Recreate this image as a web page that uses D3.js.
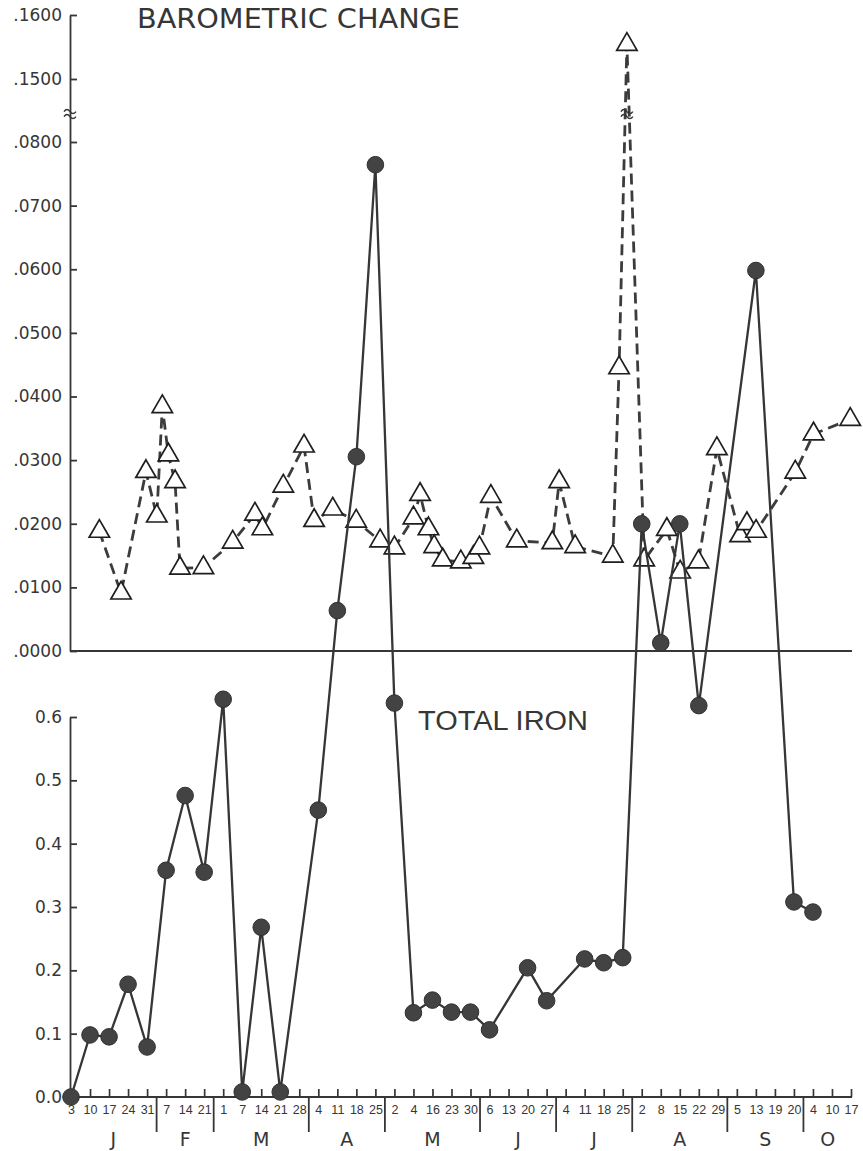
<!DOCTYPE html>
<html>
<head>
<meta charset="utf-8">
<script src="https://cdn.jsdelivr.net/npm/d3@7"></script>
<style>
  body { margin: 0; background: #fff; }
  svg { display: block; }
</style>
</head>
<body>
<svg id="chart" width="863" height="1151"></svg>
<script>
// one tick per sampling date along the bottom
const dayLabels = ['3', '10', '17', '24', '31', '7', '14', '21', '1', '7', '14', '21', '28', '4', '11', '18', '25',
  '2', '4', '16', '23', '30', '6', '13', '20', '27', '4', '11', '18', '25', '2', '8', '15', '22', '29',
  '5', '13', '19', '20', '4', '10', '17']
const monthLabels = ['J', 'F', 'M', 'A', 'M', 'J', 'J', 'A', 'S', 'O']
const monthStarts = [0, 5, 8, 13, 17, 22, 26, 30, 35, 39] // first tick of each month

// total iron (tick index -> value)
const ironWeek = [0, 1, 2, 3, 4, 5, 6, 7, 8, 9, 10, 11, 13, 14, 15, 16, 17, 18, 19, 20, 21, 22, 24, 25,
  27, 28, 29, 30, 31, 32, 33, 36, 38, 39]
const ironValue = [0, 0.098, 0.095, 0.178, 0.079, 0.358, 0.476, 0.355, 0.628, 0.008, 0.268, 0.008,
  0.453, 0.768, 1.011, 1.472, 0.622, 0.133, 0.153, 0.134, 0.134, 0.106, 0.204, 0.152,
  0.218, 0.212, 0.220, 0.905, 0.717, 0.905, 0.618, 1.305, 0.308, 0.292]

// barometric change (position on the tick axis -> value)
const baroWeek = [1.49, 2.63, 3.94, 4.51, 4.80, 5.12, 5.47, 5.73, 6.96, 8.50, 9.67, 10.06, 11.16, 12.25,
  12.78, 13.76, 14.99, 16.25, 17.00, 18.00, 18.35, 18.79, 19.09, 19.54, 20.49, 21.15, 21.47, 22.07,
  23.43, 25.30, 25.66, 26.50, 28.48, 28.81, 29.22, 30.13, 31.32, 32.02, 32.98, 33.95, 35.17, 35.53,
  36.01, 38.07, 39.03, 40.96]
const baroValue = [0.0188, 0.0091, 0.0282, 0.0212, 0.0384, 0.0308, 0.0266, 0.0130, 0.0131, 0.0171,
  0.0215, 0.0192, 0.0259, 0.0322, 0.0205, 0.0223, 0.0204, 0.0173, 0.0162, 0.0209, 0.0246, 0.0192,
  0.0164, 0.0143, 0.0140, 0.0147, 0.0162, 0.0243, 0.0173, 0.0170, 0.0266, 0.0164, 0.0149, 0.0445,
  0.1554, 0.0143, 0.0191, 0.0124, 0.0140, 0.0318, 0.0181, 0.0200, 0.0188, 0.0281, 0.0341, 0.0364]

const baroTicks = [0, 0.01, 0.02, 0.03, 0.04, 0.05, 0.06, 0.07, 0.08, 0.15, 0.16]
const ironTicks = [0, 0.1, 0.2, 0.3, 0.4, 0.5, 0.6]
const axisBreak = 0.111

const ink = '#363636'
const font = "'DejaVu Sans', sans-serif"

const svg = d3.select('#chart')
const axisX = 70
const axisEnd = 852

const xScale = d3.scaleLinear().domain([0, dayLabels.length - 1]).range([71, 851])
// broken scale: 0 - .08 below the break, .15 - .16 above it
const yBaro = d3.scaleLinear().domain([0, 0.08, 0.15, 0.16]).range([651, 142, 79, 15])
const yIron = d3.scaleLinear().domain([0, 0.6]).range([1097, 717])

const baro = baroWeek.map((w, i) => ({ w, v: baroValue[i] }))
const iron = ironWeek.map((w, i) => ({ w, v: ironValue[i] }))

function customYAxis (g, axis) {
  g.call(axis)
  g.select('.domain').style('stroke', ink).style('stroke-width', 1.8)
  g.selectAll('.tick line').style('stroke', ink).style('stroke-width', 1.8)
  g.selectAll('.tick text')
    .style('font-family', font)
    .style('font-size', '17px')
    .style('fill', ink)
}

const baroAxis = d3.axisLeft(yBaro)
  .tickValues(baroTicks)
  .tickSize(-7)
  .tickSizeOuter(0)
  .tickPadding(8)
  .tickFormat(d => d3.format('.4f')(d).slice(1))

const ironAxis = d3.axisLeft(yIron)
  .tickValues(ironTicks)
  .tickSize(-7)
  .tickSizeOuter(0)
  .tickPadding(8)
  .tickFormat(d3.format('.1f'))

svg.append('g').attr('transform', `translate(${axisX},0)`).call(g => customYAxis(g, baroAxis))
svg.append('g').attr('transform', `translate(${axisX},0)`).call(g => customYAxis(g, ironAxis))

// zero line of the barometric panel
svg.append('line')
  .attr('x1', axisX).attr('x2', axisEnd)
  .attr('y1', yBaro(0)).attr('y2', yBaro(0))
  .style('stroke', ink).style('stroke-width', 1.8)

// bottom axis
const xAxis = d3.axisBottom(xScale)
  .tickValues(d3.range(dayLabels.length))
  .tickSize(-8)
  .tickSizeOuter(0)
  .tickPadding(8)
  .tickFormat(i => dayLabels[i])

const gx = svg.append('g').attr('transform', `translate(0,${yIron(0)})`).call(xAxis)
gx.select('.domain').remove()
gx.selectAll('.tick line').style('stroke', ink).style('stroke-width', 1.7)
gx.selectAll('.tick text')
  .style('font-family', "'Liberation Sans', sans-serif")
  .style('font-size', '12.5px')
  .style('fill', ink)
gx.append('line')
  .attr('x1', axisX).attr('x2', axisEnd)
  .style('stroke', ink).style('stroke-width', 1.8)

// month separators and letters
const bounds = [axisX].concat(monthStarts.slice(1).map(s => xScale(s - 0.5)), [axisEnd])
gx.selectAll('.sep')
  .data(bounds.slice(1, -1))
  .join('line')
  .attr('x1', d => d).attr('x2', d => d)
  .attr('y1', 0).attr('y2', 35)
  .style('stroke', ink).style('stroke-width', 1.8)
gx.selectAll('.month')
  .data(monthLabels)
  .join('text')
  .attr('x', (d, i) => (bounds[i] + bounds[i + 1]) / 2)
  .attr('y', 49)
  .attr('text-anchor', 'middle')
  .style('font-family', font)
  .style('font-size', '19px')
  .style('fill', ink)
  .text(d => d)

// barometric change: dashed line with open triangles
const baroLine = d3.line().x(d => xScale(d.w)).y(d => yBaro(d.v))
svg.append('path')
  .datum(baro)
  .attr('d', baroLine)
  .style('fill', 'none')
  .style('stroke', '#3c3c3c')
  .style('stroke-width', 2.8)
  .style('stroke-dasharray', '11,6')

svg.selectAll('.tri')
  .data(baro)
  .join('path')
  .attr('transform', d => `translate(${xScale(d.w)},${yBaro(d.v)})`)
  .attr('d', d3.symbol(d3.symbolTriangle, 180))
  .style('fill', '#fff')
  .style('stroke', '#1e1e1e')
  .style('stroke-width', 1.7)

// total iron: solid line with filled dots
const ironLine = d3.line().x(d => xScale(d.w)).y(d => yIron(d.v))
svg.append('path')
  .datum(iron)
  .attr('d', ironLine)
  .style('fill', 'none')
  .style('stroke', ink)
  .style('stroke-width', 2.3)

svg.selectAll('.dot')
  .data(iron)
  .join('circle')
  .attr('cx', d => xScale(d.w))
  .attr('cy', d => yIron(d.v))
  .attr('r', 8.3)
  .style('fill', '#434343')
  .style('stroke', '#303030')
  .style('stroke-width', 1)

// break marks on the axis and on the spike
const peak = baro.reduce((a, b) => (b.v > a.v ? b : a))
const breakMark = (x, y, w) => [-2.5, 2.5]
  .map(k => `M${x - w / 2},${y + k} q${w / 4},-4 ${w / 2},0 t${w / 2},0`).join(' ')
svg.append('path')
  .attr('d', breakMark(axisX, yBaro(axisBreak), 12) + ' ' + breakMark(xScale(peak.w), yBaro(axisBreak), 12))
  .style('fill', 'none')
  .style('stroke', ink)
  .style('stroke-width', 1.5)

// panel titles
svg.append('text')
  .attr('x', 137).attr('y', 28)
  .attr('textLength', 323).attr('lengthAdjust', 'spacingAndGlyphs')
  .style('font-family', font).style('font-size', '27px').style('fill', ink)
  .text('BAROMETRIC CHANGE')

svg.append('text')
  .attr('x', 418).attr('y', 730)
  .attr('textLength', 170).attr('lengthAdjust', 'spacingAndGlyphs')
  .style('font-family', "'Liberation Sans', sans-serif").style('font-size', '27px').style('fill', ink)
  .text('TOTAL IRON')
</script>
</body>
</html>
